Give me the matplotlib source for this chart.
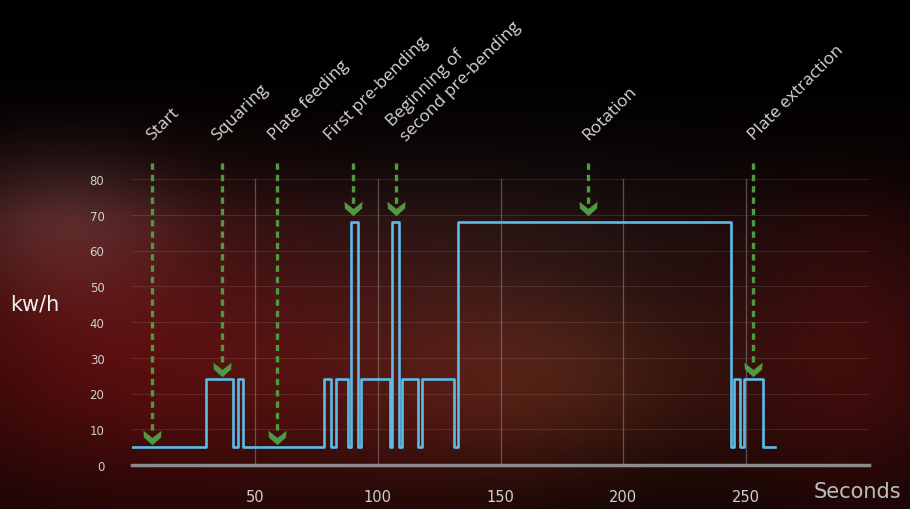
import numpy as np
import matplotlib.pyplot as plt
from matplotlib.path import Path

# ── Data ──────────────────────────────────────────────────────────────────────
step_times = [0, 30, 41, 43, 45, 78, 81, 83, 88, 89, 92, 93, 105, 106, 108.5,
              110, 116.5, 118, 131, 132.5, 244, 245, 247.5, 249, 257, 262]
step_kwh = [5, 24, 5, 24, 5, 24, 5, 24, 5, 68, 5, 24, 5, 68, 5,
            24, 5, 24, 5, 68, 5, 24, 5, 24, 5, 5]

event_labels = ["Start", "Squaring", "Plate feeding", "First pre-bending",
                "Beginning of\nsecond pre-bending", "Rotation", "Plate extraction"]
event_times = [8, 36.5, 59, 90, 107.5, 185.5, 253]
event_tips = [7, 26, 7, 71, 71, 71, 26]

x_ticks = [50, 100, 150, 200, 250]
y_ticks = [0, 10, 20, 30, 40, 50, 60, 70, 80]

# ── Style ─────────────────────────────────────────────────────────────────────
LINE_COLOR = "#5bbce8"
ARROW_COLOR = "#4e9a42"
TEXT_COLOR = "#d6d6d6"
W, H = 910, 510
# horizontal nudge (pixels) of a few labels relative to their arrow
LABEL_NUDGE = {"Squaring": -5, "Plate feeding": -3, "First pre-bending": -23,
               "Beginning of\nsecond pre-bending": 10}

fig = plt.figure(figsize=(W / 100, H / 100), dpi=100)

# blurry dark red backdrop
yy, xx = np.mgrid[0:H, 0:W]
bg = np.zeros((H, W, 3))
bg[:] = [0.03, 0.01, 0.01]
def blob(cx, cy, rx, ry, rgb):
    g = np.exp(-(((xx - cx) / rx) ** 2 + ((yy - cy) / ry) ** 2))
    return g[..., None] * np.array(rgb)
bg += blob(90, 340, 230, 170, [0.26, 0.03, 0.03])
bg += blob(420, 390, 260, 130, [0.20, 0.04, 0.03])
bg += blob(560, 380, 160, 90, [0.10, 0.07, 0.03])
bg += blob(860, 360, 140, 160, [0.20, 0.03, 0.03])
bg += blob(60, 210, 120, 90, [0.15, 0.13, 0.13])
bg += blob(470, 240, 300, 140, [0.08, 0.06, 0.06])
top_fade = np.clip((yy - 60) / 160.0, 0, 1)[..., None]
bg = np.clip(bg * top_fade, 0, 1)
bg_ax = fig.add_axes([0, 0, 1, 1], zorder=-10)
bg_ax.imshow(bg, aspect="auto", interpolation="bilinear")
bg_ax.axis("off")

# ── Main axes ─────────────────────────────────────────────────────────────────
ax = fig.add_axes([132.25 / W, (H - 466) / H, 736.5 / W, 286 / H])
ax.patch.set_alpha(0)
ax.set_xlim(0, 300)
ax.set_ylim(0, 80)
for s in ["top", "right", "left"]:
    ax.spines[s].set_visible(False)
ax.spines["bottom"].set_color("#8c8c8c")
ax.spines["bottom"].set_linewidth(2.5)

for y in y_ticks[1:]:
    ax.axhline(y, color="#ffffff", alpha=0.10, lw=0.8, zorder=1)
for x in x_ticks:
    ax.axvline(x, color="#8a8a8a", alpha=0.55, lw=0.9, zorder=1)

ax.set_xticks(x_ticks)
ax.set_yticks(y_ticks)
ax.tick_params(length=0, colors="#cfcfcf")
ax.tick_params(axis="x", pad=17, labelsize=10.5)
ax.tick_params(axis="y", pad=20, labelsize=8.5)
for lab in ax.get_xticklabels() + ax.get_yticklabels():
    lab.set_family("DejaVu Sans")

ax.plot(step_times, step_kwh, drawstyle="steps-post", color=LINE_COLOR,
        lw=1.9, zorder=4)

# chevron marker for arrow heads
chevron = Path([(-1, 0.75), (0, -0.05), (1, 0.75), (0.95, 0.0),
                (0, -0.85), (-0.95, 0.0), (-1, 0.75)],
               [Path.MOVETO] + [Path.LINETO] * 5 + [Path.CLOSEPOLY])

ARROW_TOP = 84.6
for label, t, tip in zip(event_labels, event_times, event_tips):
    ax.plot([t, t], [ARROW_TOP, tip + 2.0], color=ARROW_COLOR, lw=2.4,
            dashes=(1.9, 1.5), clip_on=False, zorder=5)
    ax.plot([t], [tip + 0.8], marker=chevron, markersize=13, color=ARROW_COLOR,
            markeredgewidth=0, clip_on=False, zorder=5)
    dx = 3 + LABEL_NUDGE.get(label, 0)
    ax.annotate(label, xy=(t, ARROW_TOP), xytext=(dx, 20 if "\n" not in label else 19),
                textcoords="offset pixels", rotation=45, rotation_mode="anchor",
                ha="left", va="bottom", fontsize=12.5, color=TEXT_COLOR,
                family="Open Sans", annotation_clip=False, linespacing=1.38)

fig.text(857 / W, 1 - 492 / H, "Seconds", color="#bdbdbd", fontsize=15,
         family="DejaVu Sans", ha="center", va="center")
fig.text(35 / W, 1 - 305 / H, "kw/h", color="#f0f0f0", fontsize=15,
         family="DejaVu Sans", ha="center", va="center")

fig.savefig("out.png", dpi=100)
